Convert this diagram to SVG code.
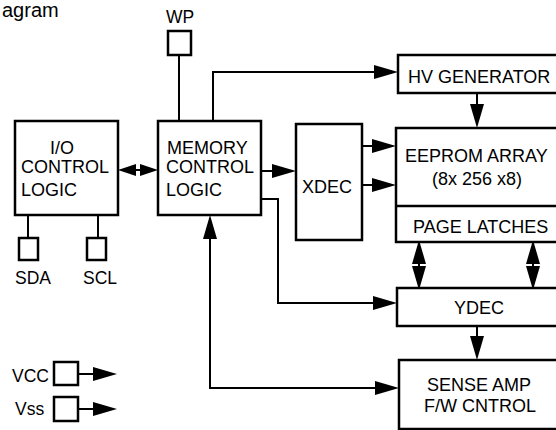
<svg xmlns="http://www.w3.org/2000/svg" width="556" height="430" viewBox="0 0 556 430">
<style>
.box{fill:#fff;stroke:#000;stroke-width:2.5}
.ln{fill:none;stroke:#000;stroke-width:2}
text{font-family:"Liberation Sans",Arial,sans-serif;font-size:18px;fill:#000}
.pin{font-size:17.5px}
.title{font-size:20px}
</style>
<defs>
<marker id="ah" markerUnits="userSpaceOnUse" markerWidth="25" markerHeight="14" refX="0" refY="7" orient="auto-start-reverse" viewBox="0 0 25 14">
<path d="M0,0 L24,7 L0,14 z" fill="#000"/>
</marker>
<marker id="ahs" markerUnits="userSpaceOnUse" markerWidth="19" markerHeight="12" refX="0" refY="6" orient="auto-start-reverse" viewBox="0 0 19 12">
<path d="M0,0 L18,6 L0,12 z" fill="#000"/>
</marker>
</defs>
<rect width="556" height="430" fill="#fff"/>
<text class="title" x="2" y="17">agram</text>

<g id="connectors">
<path class="ln" d="M179,55 V121"/>
<path class="ln" d="M136,170 H140" marker-start="url(#ahs)" marker-end="url(#ahs)"/>
<path class="ln" d="M213,121 V72 H374" marker-end="url(#ah)"/>
<path class="ln" d="M477,93 V104" marker-end="url(#ah)"/>
<path class="ln" d="M261,171 H272" marker-end="url(#ah)"/>
<path class="ln" d="M362,146 H372" marker-end="url(#ah)"/>
<path class="ln" d="M362,185 H372" marker-end="url(#ah)"/>
<path class="ln" d="M261,199 H278 V303 H373" marker-end="url(#ah)"/>
<path class="ln" d="M419,264 V266" marker-start="url(#ah)" marker-end="url(#ah)"/>
<path class="ln" d="M533,264 V266" marker-start="url(#ah)" marker-end="url(#ah)"/>
<path class="ln" d="M477,326 V336" marker-end="url(#ah)"/>
<path class="ln" d="M210,239 V388 H375" marker-start="url(#ah)" marker-end="url(#ah)"/>
<path class="ln" d="M28,215 V238"/>
<path class="ln" d="M98,215 V238"/>
<path class="ln" d="M78,374 H93" marker-end="url(#ah)"/>
<path class="ln" d="M78,409 H93" marker-end="url(#ah)"/>
</g>

<g id="wp">
<rect class="box" x="168" y="31" width="23" height="24"/>
<text class="pin" x="166" y="23">WP</text>
</g>
<g id="io-control">
<rect class="box" x="15" y="121" width="103" height="94"/>
<text x="50" y="154">I/O</text>
<text x="21" y="173">CONTROL</text>
<text x="21" y="196">LOGIC</text>
</g>
<g id="memory-control">
<rect class="box" x="158" y="121" width="103" height="94"/>
<text x="167" y="154">MEMORY</text>
<text x="166" y="173">CONTROL</text>
<text x="166" y="196">LOGIC</text>
</g>
<g id="xdec">
<rect class="box" x="296" y="124" width="66" height="116"/>
<text x="302" y="193">XDEC</text>
</g>
<g id="hv-generator">
<rect class="box" x="398" y="55" width="190" height="38"/>
<text x="408" y="83">HV GENERATOR</text>
</g>
<g id="eeprom-array">
<rect class="box" x="396" y="128" width="190" height="114"/>
<line class="ln" x1="396" y1="206" x2="586" y2="206" style="stroke-width:2.5"/>
<text x="405" y="162">EEPROM ARRAY</text>
<text x="432" y="185">(8x 256 x8)</text>
<text x="413" y="233">PAGE LATCHES</text>
</g>
<g id="ydec">
<rect class="box" x="397" y="288" width="190" height="38"/>
<text x="454" y="314">YDEC</text>
</g>
<g id="sense-amp">
<rect class="box" x="399" y="360" width="190" height="69"/>
<text x="427" y="391">SENSE AMP</text>
<text x="424" y="412">F/W CNTROL</text>
</g>
<g id="sda">
<rect class="box" x="19" y="238" width="19" height="22"/>
<text class="pin" x="15" y="284">SDA</text>
</g>
<g id="scl">
<rect class="box" x="87" y="238" width="19" height="22"/>
<text class="pin" x="83" y="284">SCL</text>
</g>
<g id="vcc">
<rect class="box" x="54" y="362" width="24" height="23"/>
<text class="pin" x="12" y="382">VCC</text>
</g>
<g id="vss">
<rect class="box" x="54" y="397" width="24" height="24"/>
<text class="pin" x="15" y="415">Vss</text>
</g>
</svg>
